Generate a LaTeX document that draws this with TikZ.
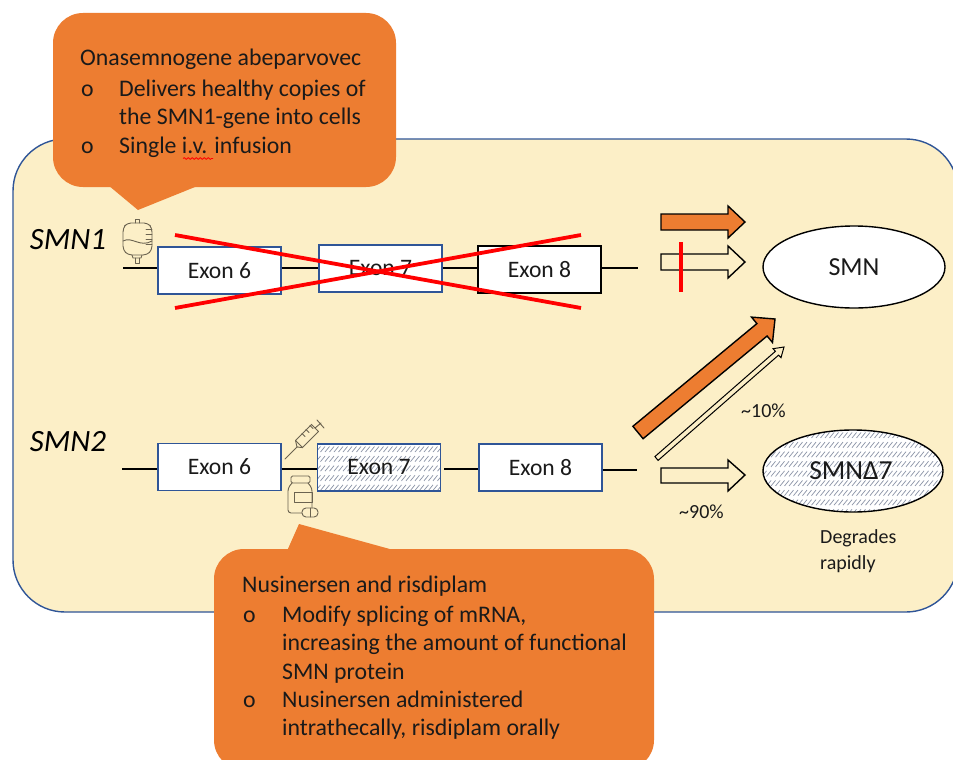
\documentclass[tikz,border=0pt]{standalone}
\usepackage{fontspec}
\setmainfont{Carlito}
\usetikzlibrary{decorations.pathmorphing,shapes.geometric}
\definecolor{cream}{HTML}{FCEFC7}
\definecolor{orangeb}{HTML}{ED7D31}
\definecolor{blueb}{HTML}{2F5597}
\definecolor{hatchc}{HTML}{8A93A6}
\definecolor{iconc}{HTML}{6B6350}
\definecolor{inkc}{HTML}{1A1A1A}
\tikzset{
  exonbox/.style={draw=blueb,line width=1.4pt,fill=white,minimum width=123pt,minimum height=47pt,inner sep=0pt,font=\fontsize{23.6}{28}\selectfont,text=inkc},
  exonblack/.style={exonbox,draw=black},
  stub/.style={draw=black,line width=1.4pt},
  redx/.style={draw=red,line width=3.8pt},
  hatched/.style n args={2}{path picture={
    \begin{scope}
      \pgftransformreset
      \foreach \r in {0,...,9}{
        \foreach \c in {0,...,42}{
          \draw[hatchc,line width=.7pt] (#1+\c*4.5-1,#2+\r*9.6+8) -- ++(4.5,-5.5);
        }
      }
    \end{scope}}},
  prot/.style={draw=black,line width=1.4pt,fill=white,ellipse,inner sep=0pt,font=\fontsize{26}{30}\selectfont,text=inkc},
  bigarrow/.style={draw=black,line width=1.4pt,line join=miter},
  calltext/.style={anchor=base west,inner sep=0pt,font=\fontsize{23.8}{28}\selectfont,text=inkc},
  smalltext/.style={anchor=base west,inner sep=0pt,font=\fontsize{20}{24}\selectfont,text=inkc},
  genelabel/.style={inner sep=0pt,font=\fontsize{31}{36}\itshape\selectfont,text=black},
  icon/.style={draw=iconc,line width=.9pt,line join=round,line cap=round},
}
\begin{document}
\begin{tikzpicture}[x=1pt,y=-1pt]
\useasboundingbox (0,0) rectangle (953,760);
\clip (0,0) rectangle (953,760);
\fill[white] (0,0) rectangle (953,760);
% cell
\draw[blueb,line width=1.4pt,fill=cream,rounded corners=52pt] (13,139) rectangle (958,612);
% gene labels
\node[genelabel] (g1) at (68,240) {SMN1};
\node[genelabel] (g2) at (68,442) {SMN2};
% stubs coordinates
\coordinate (a0) at (123,268);
\coordinate (a1) at (638,268);
\coordinate (b0) at (122,469);
\coordinate (b1) at (637,470);
% SMN1 exons
\node[exonbox] (e16) at (219.5,270.5) {Exon 6};
\node[exonbox] (e17) at (380.5,268.5) {\raisebox{-3.5pt}{Exon 7}};
\node[exonblack] (e18) at (539.5,269.5) {\raisebox{-2pt}{Exon 8}};
\draw[stub] (a0) -- (a0-|e16.west);
\draw[stub] (e16.east|-a0) -- (e17.west|-a0);
\draw[stub] (e17.east|-a0) -- (e18.west|-a0);
\draw[stub] (e18.east|-a1) -- (a1);
% SMN2 exons
\node[exonbox] (e26) at (219.5,467) {\raisebox{-1pt}{Exon 6}};
\node[exonbox,hatched={317}{444}] (e27) at (379,467.5) {\raisebox{-1.5pt}{Exon 7}};
\node[exonbox] (e28) at (540.5,467.5) {\raisebox{-1.5pt}{Exon 8}};
\draw[stub] (b0) -- (b0-|e26.west);
\draw[stub] (e26.east|-b0) -- (e27.west|-b0);
\draw[stub] (e27.east|-b0) ++(3,0) -- (e28.west|-b0);
\draw[stub] (e28.east|-b1) -- (b1);
% red cross
\coordinate (x1) at (175,235);
\coordinate (x2) at (581,308);
\coordinate (x3) at (175,308);
\coordinate (x4) at (581,235);
\draw[redx] (x1) -- (x2);
\draw[redx] (x3) -- (x4);
% block arrows
\draw[bigarrow,fill=orangeb] (661,214) -- (728,214) -- (728,206) -- (745,222) -- (728,238) -- (728,230) -- (661,230) -- cycle;
\draw[bigarrow,fill=cream] (661,254) -- (728,254) -- (728,246) -- (745,262) -- (728,278) -- (728,270) -- (661,270) -- cycle;
\draw[bigarrow,fill=cream] (661,468) -- (728,468) -- (728,460) -- (745,475) -- (728,491) -- (728,483) -- (661,483) -- cycle;
\coordinate (r1) at (681,242);
\coordinate (r2) at (681,292);
\draw[draw=red,line width=3.6pt] (r1) -- (r2);
\draw[bigarrow,fill=orangeb] (632.9,426.3) -- (756.9,323.6) -- (751.5,317.1) -- (775,319) -- (772.5,342.5) -- (767.1,336) -- (643.1,438.7) -- cycle;
\draw[bigarrow,line width=1pt,fill=cream] (654.9,456.6) -- (775.4,351.3) -- (773,348.7) -- (784,347) -- (781,357.7) -- (778.6,355.1) -- (658.1,460.4) -- cycle;
% proteins
\node[prot,minimum width=182pt,minimum height=82pt] (smn) at (854,267) {\raisebox{-2pt}{SMN}};
\node[prot,hatched={763}{430},minimum width=180pt,minimum height=82pt] (smnd) at (853,471) {\hspace*{-4pt}\raisebox{-2pt}{\fontsize{27.5}{30}\selectfont SMNΔ7}};
% small labels
\node[smalltext] (p10) at (741,417) {\textasciitilde 10\%};
\node[smalltext] (p90) at (679,518) {\textasciitilde 90\%};
\node[smalltext] (d1) at (820,543) {Degrades};
\node[smalltext] (d2) at (820,569) {rapidly};
% iv bag icon
\draw[icon,rounded corners=4pt] (123,228) -- (127,223) -- (148,223) -- (152,228) -- (152,250) -- (147,255) -- (128,255) -- (123,250) -- cycle;
\draw[icon] (135,223) -- (135,219) -- (139,219) -- (139,223);
\draw[icon] (132,255) -- (133,258) -- (141,258) -- (142,255);
\draw[icon] (135,258) -- (135,263) -- (139,263) -- (139,258);
\draw[icon] (123,241) .. controls (132,236) and (140,248) .. (152,241);
\foreach \yy in {229,234,239,244}{\draw[icon] (146,\yy) -- (152,\yy);}
% syringe icon
\draw[icon] (285,459) -- (297,447);
\draw[icon] (295.5,440.4) -- (302.5,447.6) -- (318.5,431.6) -- (311.5,424.4) -- cycle;
\draw[icon] (295.5,440.4) -- (297,447) -- (302.5,447.6);
\draw[icon] (315,428) -- (321,423);
\draw[icon] (317,420) -- (324,428);
\foreach \t in {0,1,2}{\draw[icon] (302+\t*4,433.5-\t*4) -- (305+\t*4,436.5-\t*4);}
% bottle icon
\draw[icon,rounded corners=1.5pt] (291,476) rectangle (310,483);
\draw[icon,rounded corners=3pt] (302,513) -- (288,513) -- (288,488) -- (292,483);
\draw[icon,rounded corners=3pt] (308,483) -- (312,488) -- (312,508);
\draw[icon] (294,492) rectangle (312,502);
\draw[icon,rounded corners=4pt] (302,508) rectangle (318,517);
\draw[icon] (310,508) -- (310,517);
% callout 1
\path[fill=orangeb,rounded corners=30pt] (53,13) rectangle (396,187);
\fill[orangeb] (108,185) -- (138,210) -- (200,185) -- cycle;
\node[calltext] (c11) at (80,66) {Onasemnogene abeparvovec};
\node[calltext] (c1b1) at (81,96) {o};
\node[calltext] (c12) at (119,96) {Delivers healthy copies of};
\node[calltext] (c13) at (119,124) {the SMN1-gene into cells};
\node[calltext] (c1b2) at (81,153) {o};
\node[calltext] (c14) at (119,153) {Single i.v. infusion};
\coordinate (w1) at (183,158.5);
\coordinate (w2) at (213,158.5);
\draw[red,line width=.8pt,decorate,decoration={snake,amplitude=.9pt,segment length=4pt}] (w1) -- (w2);
% callout 2
\path[fill=orangeb,rounded corners=30pt] (214,549) rectangle (654,770);
\fill[orangeb] (287,551) -- (299,524) -- (397,551) -- cycle;
\node[calltext] (c21) at (242,592) {Nusinersen and risdiplam};
\node[calltext] (c2b1) at (243,622) {o};
\node[calltext] (c22) at (282,622) {Modify splicing of mRNA,};
\node[calltext] (c23) at (282,650) {increasing the amount of functional};
\node[calltext] (c24) at (282,679) {SMN protein};
\node[calltext] (c2b2) at (243,707) {o};
\node[calltext] (c25) at (282,707) {Nusinersen administered};
\node[calltext] (c26) at (282,735) {intrathecally, risdiplam orally};
\end{tikzpicture}
\end{document}
